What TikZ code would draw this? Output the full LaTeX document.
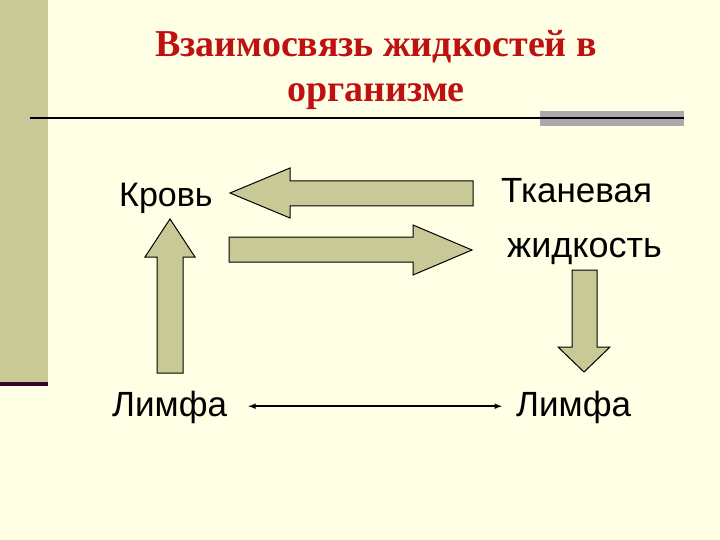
\documentclass[tikz,border=0pt]{standalone}
\usepackage{fontspec}
\setmainfont{Liberation Serif}
\newfontfamily\arialfont{Liberation Sans}
\usepackage{tikz}

\definecolor{fon}{RGB}{255,255,229}
\definecolor{olive}{RGB}{201,201,152}
\definecolor{titlered}{RGB}{190,18,18}
\definecolor{barline}{RGB}{52,6,34}
\definecolor{bargray}{RGB}{172,168,172}

\tikzset{
  word/.style = {font=\arialfont\fontsize{35}{38}\selectfont, inner sep=0pt, anchor=base west},
  blockarrow/.style = {fill=olive, draw=black, line width=1pt, line join=miter}
}

\begin{document}
\begin{tikzpicture}[x=1pt, y=-1pt]
\useasboundingbox (0,0) rectangle (720,540);
\fill[fon] (0,0) rectangle (720,540);
% left strip and rules
\fill[olive] (0,0) rectangle (48,383);
\fill[barline] (0,382) rectangle (48,385.5);
\fill[bargray] (540,111) rectangle (684,126);
\fill[bargray!70] (25,117) rectangle (30,120);
\draw[line width=2pt] (30,118)--(684,118);
% title
\node[font=\bfseries\fontsize{38}{45}\selectfont, text=titlered, align=center, anchor=base] (title) at (376,102)
  {Взаимосвязь жидкостей в\\организме};
% words
\node[word, font=\arialfont\fontsize{34}{38}\selectfont] (krov) at (119,207) {Кровь};
\node[word] (tkan) at (501,203) {Тканевая};
\node[word, font=\arialfont\fontsize{36}{38}\selectfont] (zhid) at (507,258) {жидкость};
\node[word] (limfaL) at (112,416) {Лимфа};
\node[word] (limfaR) at (516,416) {Лимфа};
% block arrows
\draw[blockarrow] (230,193)--(290,168)--(290,181)--(473,181)--(473,206)--(290,206)--(290,218)--cycle;
\draw[blockarrow] (472,250)--(413,225)--(413,237)--(229,237)--(229,262)--(413,262)--(413,275)--cycle;
\draw[blockarrow] (170,219)--(195,257)--(183,257)--(183,373)--(157,373)--(157,257)--(145,257)--cycle;
\draw[blockarrow] (584,372)--(610,347)--(597,347)--(597,270)--(572,270)--(572,347)--(558,347)--cycle;
% lymph link
\draw[line width=1.5pt, >=latex, <->, shorten <=21pt, shorten >=14pt] ([yshift=7.5pt]limfaL.mid east)--([yshift=7.5pt]limfaR.mid west);
\end{tikzpicture}
\end{document}
